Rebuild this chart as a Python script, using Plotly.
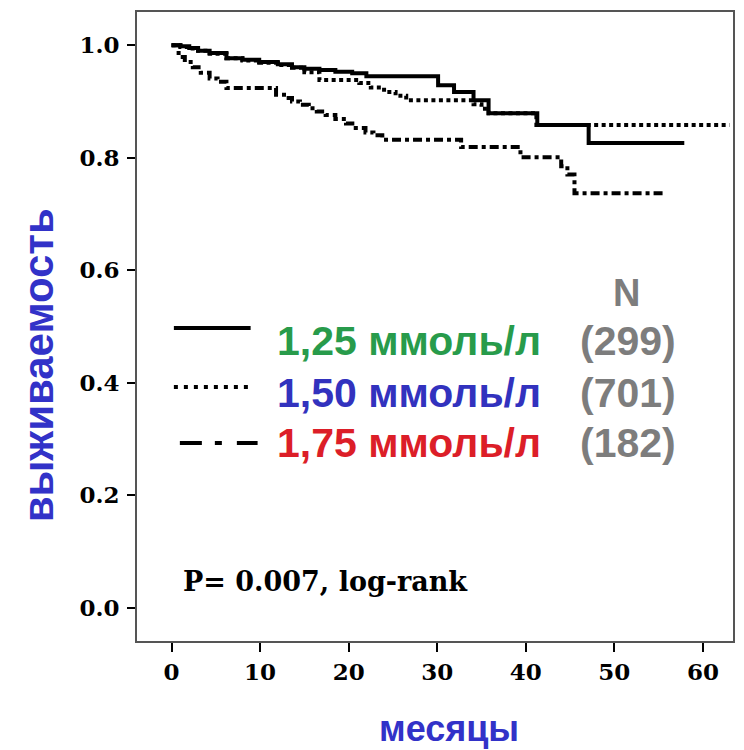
import plotly.graph_objects as go

# ---------------- data ----------------
months_125 = [0, 1, 2, 3, 4.3, 6.2, 8, 9.9, 12, 13.6, 15, 16.7, 18.5, 20.4, 22,
              30.1, 31.9, 34.1, 35.8, 41.3, 47.1, 57.9]
surv_125 = [1.0, 0.998, 0.995, 0.990, 0.986, 0.977, 0.974, 0.970, 0.966, 0.961,
            0.958, 0.956, 0.953, 0.950, 0.945, 0.929, 0.917, 0.902, 0.879, 0.858,
            0.826, 0.826]

months_150 = [0, 1, 2, 3, 4.3, 6.2, 8, 9.9, 12, 13.6, 15, 16.7, 21.2, 22.5, 24,
              25.3, 26.5, 34.1, 35.0, 35.8, 41.2, 63.0]
surv_150 = [1.0, 0.997, 0.994, 0.990, 0.985, 0.977, 0.973, 0.969, 0.965, 0.960,
            0.952, 0.938, 0.933, 0.925, 0.917, 0.910, 0.902, 0.895, 0.887, 0.879,
            0.858, 0.858]

months_175 = [0, 0.8, 1.5, 2.4, 3.3, 4.3, 5.2, 6.2, 11.8, 12.7, 13.6, 14.5, 15.5,
              16.4, 17.4, 18.5, 19.7, 20.8, 21.9, 22.8, 23.8, 32.7, 39.4, 44.0,
              44.7, 45.5, 55.8]
surv_175 = [1.0, 0.979, 0.970, 0.961, 0.951, 0.941, 0.935, 0.924, 0.912, 0.906,
            0.900, 0.894, 0.888, 0.882, 0.876, 0.869, 0.861, 0.853, 0.845, 0.840,
            0.832, 0.819, 0.801, 0.785, 0.770, 0.737, 0.737]

group_labels = ["1,25 ммоль/л", "1,50 ммоль/л", "1,75 ммоль/л"]
group_counts = ["(299)", "(701)", "(182)"]
count_header = "N"
p_text = "P= 0.007, log-rank"
x_title = "месяцы"
y_title = "выживаемость"
x_ticks = [0, 10, 20, 30, 40, 50, 60]
y_ticks = [0.0, 0.2, 0.4, 0.6, 0.8, 1.0]
y_tick_labels = ["0.0", "0.2", "0.4", "0.6", "0.8", "1.0"]

# ---------------- styling ----------------
W, H = 744, 750
L, R, T, B = 137, 735, 12, 641          # plot-area pixel bounds

def px(x):
    return (x - L) / (R - L)

def py(y):
    return (B - y) / (B - T)

label_colors = ["rgb(40,155,75)", "rgb(50,50,190)", "rgb(220,30,40)"]
gray = "rgb(125,125,125)"
title_blue = "rgb(50,50,200)"
curve_dash = ["solid", "4px,3.5px", "9px,4px,4px,4px"]
legend_dash = ["solid", "4px,6px", "22px,13px,7px,15px,22px"]
serif = dict(family="DejaVu Serif", size=23, color="black", weight="bold")
sans_label = "Liberation Sans"

fig = go.Figure()
series = [(months_125, surv_125), (months_150, surv_150), (months_175, surv_175)]
for (t, s), dash, name in zip(series, curve_dash, group_labels):
    fig.add_trace(go.Scatter(
        x=t, y=s, mode="lines", name=name,
        line=dict(color="black", width=4, dash=dash, shape="hv"),
        showlegend=False, hoverinfo="skip"))

annotations = []
shapes = []

# custom legend
line_rows = [328, 387, 443]
text_rows = [341, 393, 443]
line_x = [(174, 251), (174, 250), (180, 258)]
for i in range(3):
    x0, x1 = line_x[i]
    shapes.append(dict(type="line", xref="paper", yref="paper",
                       x0=px(x0), x1=px(x1), y0=py(line_rows[i]), y1=py(line_rows[i]),
                       line=dict(color="black", width=4, dash=legend_dash[i])))
    annotations.append(dict(xref="paper", yref="paper", x=px(275), y=py(text_rows[i]),
                            xanchor="left", yanchor="middle", showarrow=False,
                            text=group_labels[i],
                            font=dict(family=sans_label, size=41, color=label_colors[i],
                                      weight="bold")))
    annotations.append(dict(xref="paper", yref="paper", x=px(680), y=py(text_rows[i]),
                            xanchor="right", yanchor="middle", showarrow=False,
                            text=group_counts[i],
                            font=dict(family=sans_label, size=41, color=gray,
                                      weight="bold")))
annotations.append(dict(xref="paper", yref="paper", x=px(628), y=py(293),
                        xanchor="center", yanchor="middle", showarrow=False,
                        text=count_header,
                        font=dict(family=sans_label, size=38, color=gray, weight="bold")))

annotations.append(dict(xref="paper", yref="paper", x=px(181), y=py(581),
                        xanchor="left", yanchor="middle", showarrow=False,
                        text=p_text, font=dict(family="DejaVu Serif", size=27,
                                               color="black", weight="bold")))

annotations.append(dict(xref="paper", yref="paper", x=px(450), y=py(728),
                        xanchor="center", yanchor="middle", showarrow=False,
                        text=x_title,
                        font=dict(family=sans_label, size=36, color=title_blue,
                                  weight="bold")))
annotations.append(dict(xref="paper", yref="paper", x=px(38), y=py(365),
                        xanchor="center", yanchor="middle", showarrow=False,
                        textangle=-90, text=y_title,
                        font=dict(family=sans_label, size=42, color=title_blue,
                                  weight="bold")))

fig.update_layout(
    width=W, height=H,
    margin=dict(l=L, r=W - R, t=T, b=H - B),
    paper_bgcolor="white", plot_bgcolor="white",
    showlegend=False,
    annotations=annotations, shapes=shapes,
    xaxis=dict(range=[-3.9, 63.4], tickvals=x_ticks, ticks="outside", ticklen=9,
               tickwidth=2, tickcolor="black", showgrid=False, zeroline=False,
               showline=True, mirror=True, linecolor="#555", linewidth=2,
               tickfont=serif, ticklabelstandoff=0),
    yaxis=dict(range=[-0.059, 1.059], tickvals=y_ticks, ticktext=y_tick_labels,
               ticks="outside", ticklen=8, tickwidth=2, tickcolor="black",
               showgrid=False, zeroline=False, showline=True, mirror=True,
               linecolor="#555", linewidth=2, tickfont=serif, ticklabelstandoff=3),
)

fig.write_html("out.html")
